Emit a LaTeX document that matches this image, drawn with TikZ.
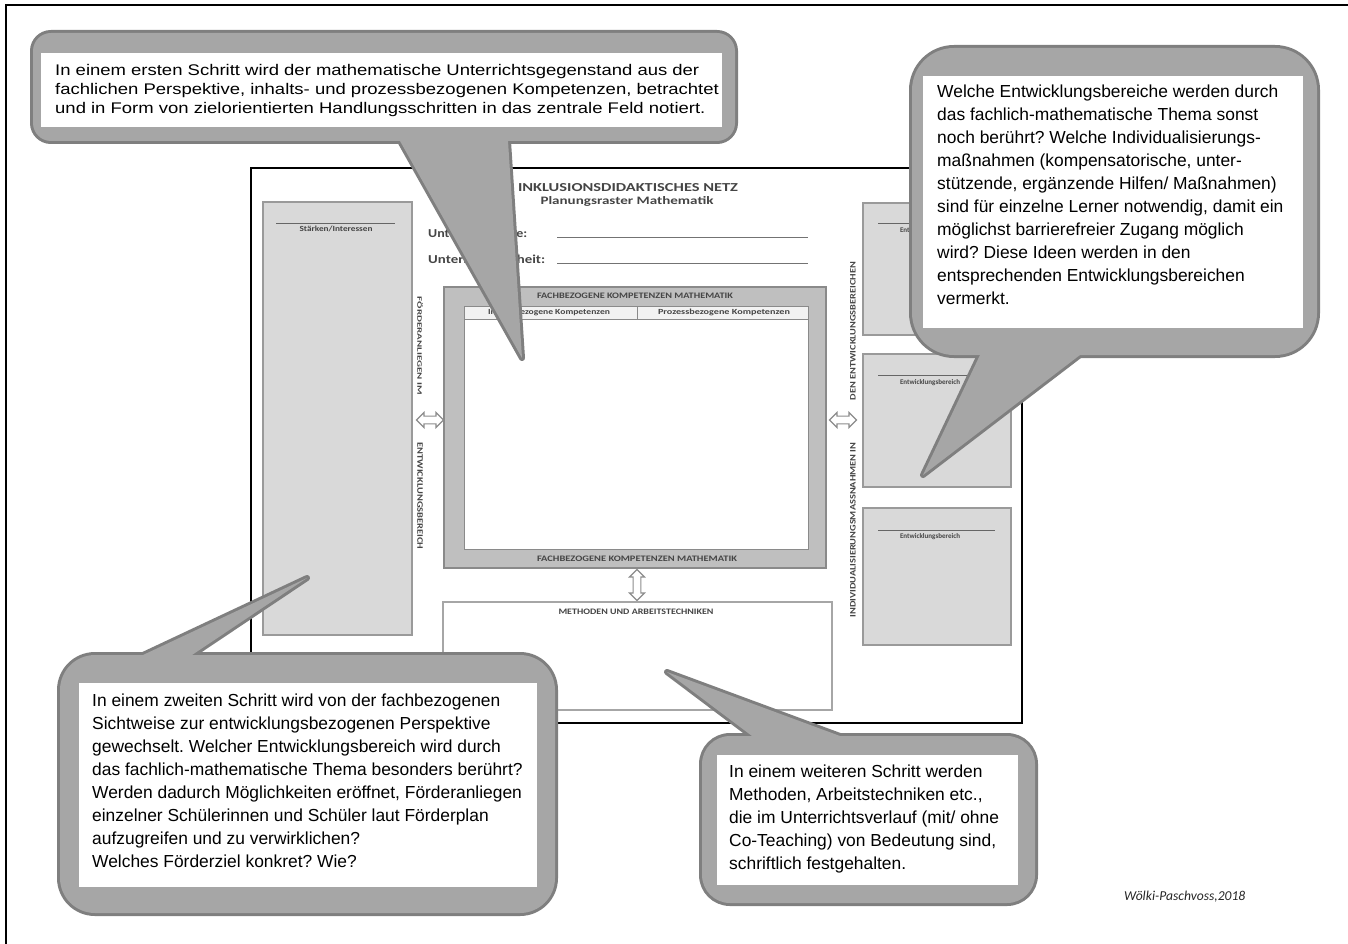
\documentclass[tikz,border=0pt]{standalone}
\usepackage{fontspec}
\setmainfont{Liberation Sans}
\newfontfamily\stretchfont[FakeStretch=1.2]{Liberation Sans}
\newfontfamily\docfont{Carlito}
\usetikzlibrary{shapes.arrows}
\frenchspacing
\definecolor{cfill}{HTML}{A6A6A6}
\definecolor{cborder}{HTML}{7F7F7F}
\definecolor{boxgray}{HTML}{D9D9D9}
\definecolor{boxedge}{HTML}{9A9A9A}
\definecolor{centergray}{HTML}{BFBFBF}
\definecolor{centeredge}{HTML}{8A8A8A}
\definecolor{cellgray}{HTML}{F2F2F2}
\definecolor{doctxt}{HTML}{454545}
\newcommand\mycallout[3]{%
  \path[draw=cborder,line width=6pt,rounded corners=#2] #1;
  \path[draw=cborder,line width=6pt,line join=round] #3;
  \path[fill=cfill,rounded corners=#2] #1;
  \path[fill=cfill] #3;}
\newcommand\doctext[3]{\resizebox{#1pt}{#2pt}{\docfont\bfseries #3}}
\begin{document}
\frenchspacing
\begin{tikzpicture}[x=1pt,y=-1pt,
  calltext/.style={anchor=base west,inner sep=0pt,text=black},
  big/.style={font=\fontsize{17.4}{23}\selectfont\frenchspacing},
  doc/.style={text=doctxt,inner sep=0pt},
  dbl/.style={double arrow,draw=black!45,fill=white,line width=1.1pt,minimum height=#1,
    minimum width=15pt,inner sep=2.2pt,double arrow head extend=2.5pt},
  pane/.style={fill=boxgray,draw=boxedge,line width=1.5pt},
  rule/.style={draw=black!60,line width=0.9pt}]
\useasboundingbox (0,0) rectangle (1348,944);
% page frame (top and left)
\draw[line width=2pt] (5.5,944) -- (5.5,5.5) -- (1348,5.5);

% ---------- planning sheet ----------
\draw[line width=1.6pt,fill=white] (251,168) rectangle (1022,723);
\node[doc] (title) at (628,188) {\doctext{220}{8}{INKLUSIONSDIDAKTISCHES NETZ}};
\node[doc] (subtitle) at (627,201) {\doctext{173}{8}{Planungsraster Mathematik}};
\node[doc,anchor=west] (reihe) at (428,233) {\doctext{99}{8.5}{Unterrichtsreihe:}};
\node[doc,anchor=west] (einheit) at (428,259) {\doctext{117}{8.5}{Unterrichtseinheit:}};
\draw[draw=black!55,line width=0.9pt] (557,237) -- (808,237);
\draw[draw=black!55,line width=0.9pt] (557,263) -- (808,263);

% left pane
\draw[pane] (263,202) rectangle (412,635);
\draw[rule] (276,223) -- (395,223);
\node[doc] (staerken) at (336,229) {\doctext{73}{5.5}{Stärken/Interessen}};
\node[doc,rotate=-90] (vl1) at (420,346) {\doctext{98}{5.5}{FÖRDERANLIEGEN IM}};
\node[doc,rotate=-90] (vl2) at (420,496) {\doctext{107}{5.5}{ENTWICKLUNGSBEREICH}};
\node[dbl=27pt] (arrL) at (430,420) {};

% central pane
\draw[fill=centergray,draw=centeredge,line width=1.5pt] (444,287) rectangle (826,568);
\draw[fill=white,draw=centeredge,line width=1pt] (464,306) rectangle (808,549);
\draw[fill=cellgray,draw=centeredge,line width=0.8pt] (464,306) rectangle (637,319);
\draw[fill=cellgray,draw=centeredge,line width=0.8pt] (637,306) rectangle (808,319);
\node[doc] (fkTop) at (635,296) {\doctext{196}{5.5}{FACHBEZOGENE KOMPETENZEN MATHEMATIK}};
\node[doc] (fkBot) at (637,559) {\doctext{200}{5.5}{FACHBEZOGENE KOMPETENZEN MATHEMATIK}};
\node[doc] (inhalt) at (549,312.5) {\doctext{122}{5.5}{Inhaltsbezogene Kompetenzen}};
\node[doc] (prozess) at (724,312.5) {\doctext{132}{5.5}{Prozessbezogene Kompetenzen}};
\node[dbl=31pt,rotate=90] (arrV) at (637,585) {};

% methods pane
\draw[fill=white,draw=black!35,line width=1.2pt] (443,602) rectangle (832,710);
\node[doc] (methoden) at (636,612) {\doctext{155}{5.5}{METHODEN UND ARBEITSTECHNIKEN}};

% right panes
\draw[pane] (863,203) rectangle (1011,335);
\draw[pane] (863,354) rectangle (1011,487);
\draw[pane] (863,508) rectangle (1011,645);
\draw[rule] (878,223) -- (995,223);
\draw[rule] (878,375) -- (995,375);
\draw[rule] (878,530) -- (995,530);
\node[doc] (eb1) at (930,231) {\doctext{60}{5}{Entwicklungsbereich}};
\node[doc] (eb2) at (930,383) {\doctext{60}{5}{Entwicklungsbereich}};
\node[doc] (eb3) at (930,537) {\doctext{60}{5}{Entwicklungsbereich}};
\node[doc,rotate=90] (vr1) at (853,331) {\doctext{138}{5.5}{DEN ENTWICKLUNGSBEREICHEN}};
\node[doc,rotate=90] (vr2) at (853,530) {\doctext{175}{5.5}{INDIVIDUALISIERUNGSMASSNAHMEN IN}};
\node[dbl=27pt] (arrR) at (843,420) {};

% ---------- callouts ----------
\mycallout{(33,33) rectangle (735,141)}{18}{(400,141) -- (522,358) -- (508,141) -- cycle}
\fill[white] (41,53) rectangle (722,127);
\node[calltext] (t1) at (55,76) {\stretchfont\fontsize{15.4}{19}\selectfont\frenchspacing
\begin{tabular}[t]{@{}l@{}}
In einem ersten Schritt wird der mathematische Unterrichtsgegenstand aus der\\
fachlichen Perspektive, inhalts- und prozessbezogenen Kompetenzen, betrachtet\\
und in Form von zielorientierten Handlungsschritten in das zentrale Feld notiert.
\end{tabular}};

\mycallout{(912,48) rectangle (1317,355)}{42}{(980,355) -- (923,475) -- (1080,355) -- cycle}
\fill[white] (923,76) rectangle (1303,328);
\node[calltext,big] (t2) at (937,98) {\begin{tabular}[t]{@{}l@{}}
Welche Entwicklungsbereiche werden durch\\
das fachlich-mathematische Thema sonst\\
noch berührt? Welche Individualisierungs-\\
maßnahmen (kompensatorische, unter-\\
stützende, ergänzende Hilfen/ Maßnahmen)\\
sind für einzelne Lerner notwendig, damit ein\\
möglichst barrierefreier Zugang möglich\\
wird? Diese Ideen werden in den\\
entsprechenden Entwicklungsbereichen\\
vermerkt.
\end{tabular}};

\mycallout{(60,655) rectangle (555,913)}{35}{(143,655) -- (307,578) -- (192,655) -- cycle}
\fill[white] (79,683) rectangle (537,887);
\node[calltext,big] (t3) at (92,706) {\begin{tabular}[t]{@{}l@{}}
In einem zweiten Schritt wird von der fachbezogenen\\
Sichtweise zur entwicklungsbezogenen Perspektive\\
gewechselt. Welcher Entwicklungsbereich wird durch\\
das fachlich-mathematische Thema besonders berührt?\\
Werden dadurch Möglichkeiten eröffnet, Förderanliegen\\
einzelner Schülerinnen und Schüler laut Förderplan\\
aufzugreifen und zu verwirklichen?\\
Welches Förderziel konkret? Wie?
\end{tabular}};

\mycallout{(702,736) rectangle (1035,903)}{28}{(752,736) -- (667,672) -- (840,736) -- cycle}
\fill[white] (717,755) rectangle (1018,885);
\node[calltext,big] (t4) at (729,777) {\begin{tabular}[t]{@{}l@{}}
In einem weiteren Schritt werden\\
Methoden, Arbeitstechniken etc.,\\
die im Unterrichtsverlauf (mit/ ohne\\
Co-Teaching) von Bedeutung sind,\\
schriftlich festgehalten.
\end{tabular}};

\node[anchor=west,inner sep=0pt,font=\docfont\itshape\fontsize{13.6}{14}\selectfont,text=black!85] (sig) at (1124,897) {Wölki-Paschvoss,2018};
\end{tikzpicture}
\end{document}
